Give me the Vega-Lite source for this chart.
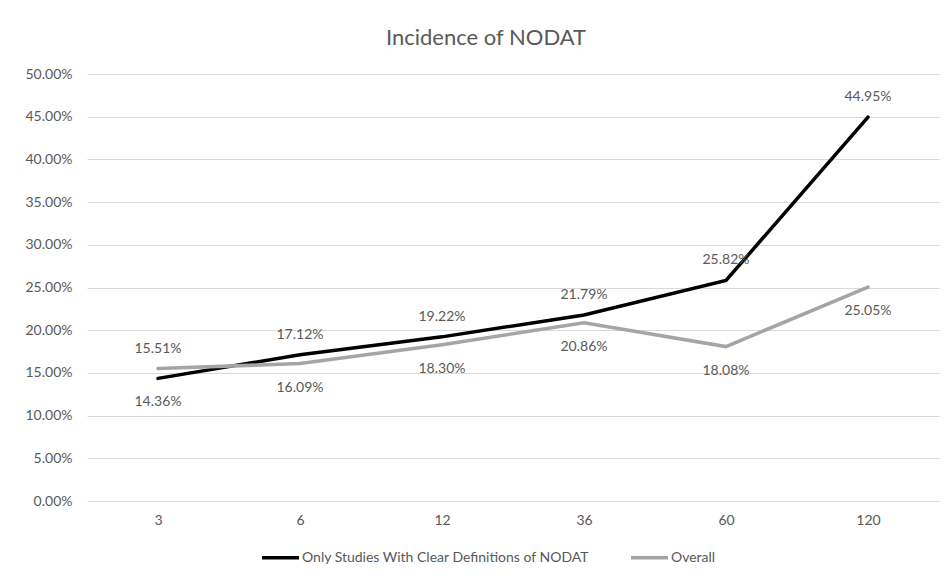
{
  "$schema": "https://vega.github.io/schema/vega-lite/v6.json",
  "width": 852,
  "height": 427,
  "autosize": {"type": "none"},
  "padding": {"left": 87, "top": 74, "right": 13, "bottom": 76},
  "background": "#ffffff",
  "title": {
    "text": "Incidence of NODAT",
    "fontSize": 22,
    "font": "Lato",
    "fontWeight": "normal",
    "color": "#595959",
    "anchor": "middle",
    "dx": -27,
    "offset": 17
  },
  "config": {
    "font": "Lato",
    "view": {"stroke": null},
    "axis": {
      "labelFont": "Lato",
      "labelFontSize": 14,
      "labelColor": "#595959",
      "ticks": false,
      "domain": false,
      "title": null
    },
    "legend": {
      "labelFont": "Lato",
      "labelFontSize": 14,
      "labelColor": "#595959",
      "labelLimit": 500
    }
  },
  "data": {
    "values": [
      {"month": 3, "series": "Only Studies With Clear Definitions of NODAT", "rate": 0.1436},
      {"month": 6, "series": "Only Studies With Clear Definitions of NODAT", "rate": 0.1712},
      {"month": 12, "series": "Only Studies With Clear Definitions of NODAT", "rate": 0.1922},
      {"month": 36, "series": "Only Studies With Clear Definitions of NODAT", "rate": 0.2179},
      {"month": 60, "series": "Only Studies With Clear Definitions of NODAT", "rate": 0.2582},
      {"month": 120, "series": "Only Studies With Clear Definitions of NODAT", "rate": 0.4495},
      {"month": 3, "series": "Overall", "rate": 0.1551},
      {"month": 6, "series": "Overall", "rate": 0.1609},
      {"month": 12, "series": "Overall", "rate": 0.1830},
      {"month": 36, "series": "Overall", "rate": 0.2086},
      {"month": 60, "series": "Overall", "rate": 0.1808},
      {"month": 120, "series": "Overall", "rate": 0.2505}
    ]
  },
  "encoding": {
    "x": {
      "field": "month",
      "type": "ordinal",
      "scale": {"type": "point", "padding": 0.5},
      "axis": {"labelAngle": 0, "labelPadding": 12, "grid": false}
    },
    "y": {
      "field": "rate",
      "type": "quantitative",
      "scale": {"domain": [0, 0.5], "nice": false, "zero": true},
      "axis": {
        "format": ".2%",
        "values": [0, 0.05, 0.1, 0.15, 0.2, 0.25, 0.3, 0.35, 0.4, 0.45, 0.5],
        "grid": true,
        "gridColor": "#d9d9d9",
        "gridWidth": 1,
        "labelPadding": 15
      }
    }
  },
  "layer": [
    {
      "mark": {"type": "line", "strokeWidth": 3.5, "strokeCap": "round"},
      "encoding": {
        "color": {
          "field": "series",
          "type": "nominal",
          "scale": {
            "domain": ["Only Studies With Clear Definitions of NODAT", "Overall"],
            "range": ["#000000", "#a5a5a5"]
          },
          "legend": {
            "title": null,
            "orient": "none",
            "legendX": 173,
            "legendY": 463,
            "direction": "horizontal",
            "symbolType": "stroke",
            "symbolStrokeWidth": 3.5,
            "symbolSize": 1369,
            "labelOffset": 1,
            "columnPadding": 34
          }
        }
      }
    },
    {
      "transform": [{"filter": "(datum.series === 'Overall' && datum.month === 3) || (datum.series !== 'Overall' && datum.month !== 3)"}],
      "mark": {"type": "text", "dy": -20, "fontSize": 14, "color": "#595959", "font": "Lato"},
      "encoding": {"text": {"field": "rate", "type": "quantitative", "format": ".2%"}}
    },
    {
      "transform": [{"filter": "!((datum.series === 'Overall' && datum.month === 3) || (datum.series !== 'Overall' && datum.month !== 3))"}],
      "mark": {"type": "text", "dy": 24, "fontSize": 14, "color": "#595959", "font": "Lato"},
      "encoding": {"text": {"field": "rate", "type": "quantitative", "format": ".2%"}}
    }
  ]
}
